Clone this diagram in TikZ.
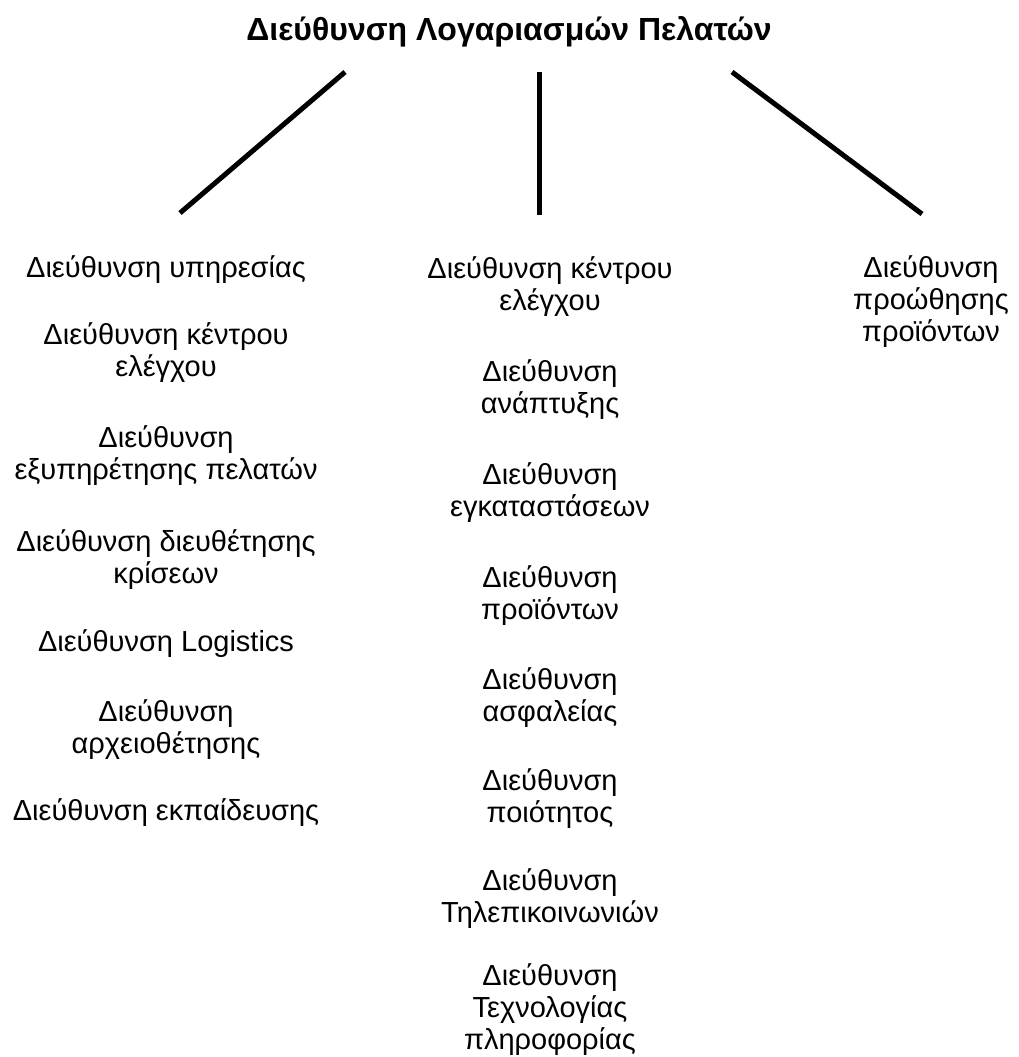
\documentclass[tikz,border=0pt]{standalone}
\usepackage{fontspec}
\setmainfont{Liberation Sans}
\begin{document}
% multi-line nodes sit on the baseline of their last line
\begin{tikzpicture}[x=1pt,y=-1pt,
  unit/.style={anchor=base, inner sep=0pt, align=center,
    font=\fontsize{29}{32}\selectfont},
  head/.style={anchor=base, inner sep=0pt,
    font=\fontsize{32}{36}\selectfont\bfseries},
  branch/.style={line width=5pt, black}]
\path[use as bounding box, fill=white] (0,0) rectangle (1018,1057);

% top of the chart
\node[head] (top) at (509,41) {Διεύθυνση Λογαριασμών Πελατών};

% branch lines
\coordinate (l0) at (345,72);  \coordinate (l1) at (180,213);
\coordinate (m0) at (539,72);  \coordinate (m1) at (539,215);
\coordinate (r0) at (732,72);  \coordinate (r1) at (922,214);
\draw[branch] (l0) -- (l1);
\draw[branch] (m0) -- (m1);
\draw[branch] (r0) -- (r1);

% left column
\node[unit] (a1) at (166,277) {Διεύθυνση υπηρεσίας};
\node[unit] (a2) at (166,376) {Διεύθυνση κέντρου\\ελέγχου};
\node[unit] (a3) at (166,479) {Διεύθυνση\\εξυπηρέτησης πελατών};
\node[unit] (a4) at (166,583) {Διεύθυνση διευθέτησης\\κρίσεων};
\node[unit] (a5) at (166,651) {Διεύθυνση Logistics};
\node[unit] (a6) at (166,753) {Διεύθυνση\\αρχειοθέτησης};
\node[unit] (a7) at (166,820) {Διεύθυνση εκπαίδευσης};

% middle column
\node[unit] (b1) at (550,310)  {Διεύθυνση κέντρου\\ελέγχου};
\node[unit] (b2) at (550,413)  {Διεύθυνση\\ανάπτυξης};
\node[unit] (b3) at (550,516)  {Διεύθυνση\\εγκαταστάσεων};
\node[unit] (b4) at (550,619)  {Διεύθυνση\\προϊόντων};
\node[unit] (b5) at (550,721)  {Διεύθυνση\\ασφαλείας};
\node[unit] (b6) at (550,822)  {Διεύθυνση\\ποιότητος};
\node[unit] (b7) at (550,922)  {Διεύθυνση\\Τηλεπικοινωνιών};
\node[unit] (b8) at (550,1049) {Διεύθυνση\\Τεχνολογίας\\πληροφορίας};

% right column
\node[unit] (c1) at (931,341) {Διεύθυνση\\προώθησης\\προϊόντων};
\end{tikzpicture}
\end{document}
